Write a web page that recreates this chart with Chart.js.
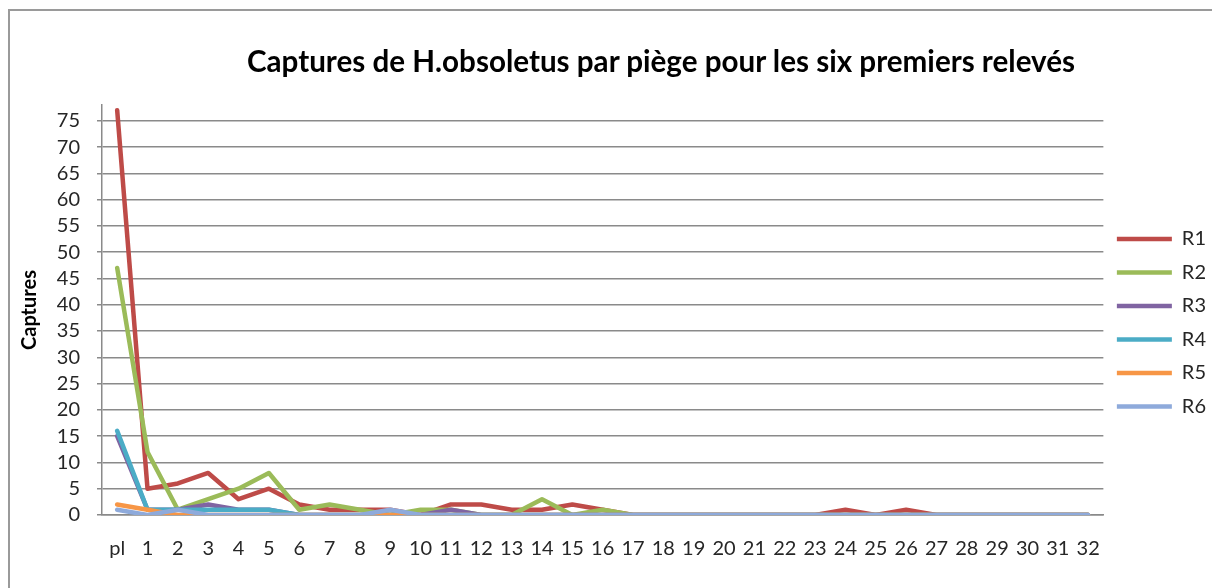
<!DOCTYPE html>
<html>
<head>
<meta charset="utf-8">
<script src="https://cdn.jsdelivr.net/npm/chart.js@4"></script>
<style>
  html, body { margin: 0; padding: 0; background: #fff; overflow: hidden; width: 1212px; height: 588px; }
  #frame { position: absolute; left: 8px; top: 9px; width: 1204px; height: 579px; border-left: 2px solid #9a9a9a; border-top: 2px solid #9a9a9a; box-sizing: border-box; pointer-events: none; }
  #title { position: absolute; left: 661px; top: 46px; transform: translateX(-50%); white-space: nowrap;
           font-family: Lato, sans-serif; font-weight: bold; font-size: 29.6px; line-height: 29.6px; color: #000; }
  #wrap { position: absolute; left: 0; top: 0; width: 1212px; height: 588px; overflow: hidden; }
  canvas { display: block; }
</style>
</head>
<body>
<div id="frame"></div>
<div id="wrap"><canvas id="c" width="1240" height="588"></canvas></div>
<div id="title">Captures de H.obsoletus par piège pour les six premiers relevés</div>
<script>
const categories = ['pl','1','2','3','4','5','6','7','8','9','10','11','12','13','14','15','16','17','18','19','20','21','22','23','24','25','26','27','28','29','30','31','32'];
const seriesNames = ['R1','R2','R3','R4','R5','R6'];
const R1 = [77,5,6,8,3,5,2,1,1,1,0,2,2,1,1,2,1,0,0,0,0,0,0,0,1,0,1,0,0,0,0,0,0];
const R2 = [47,12,1,3,5,8,1,2,1,0,1,1,0,0,3,0,1,0,0,0,0,0,0,0,0,0,0,0,0,0,0,0,0];
const R3 = [15,1,1,2,1,1,0,0,0,0,0,1,0,0,0,0,0,0,0,0,0,0,0,0,0,0,0,0,0,0,0,0,0];
const R4 = [16,1,1,1,1,1,0,0,0,0,0,0,0,0,0,0,0,0,0,0,0,0,0,0,0,0,0,0,0,0,0,0,0];
const R5 = [2,1,0,0,0,0,0,0,0,0,0,0,0,0,0,0,0,0,0,0,0,0,0,0,0,0,0,0,0,0,0,0,0];
const R6 = [1,0,1,0,0,0,0,0,0,1,0,0,0,0,0,0,0,0,0,0,0,0,0,0,0,0,0,0,0,0,0,0,0];
const yTickValues = [0,5,10,15,20,25,30,35,40,45,50,55,60,65,70,75];
const yAxisTitle = 'Captures';
const colors = ['#BE4B48','#9BBB59','#8064A2','#4BACC6','#F79646','#8EAADB'];

const seriesValues = [R1, R2, R3, R4, R5, R6];
const datasets = seriesValues.map((vals, i) => ({
  label: seriesNames[i],
  data: vals,
  borderColor: colors[i],
  backgroundColor: colors[i],
  borderWidth: 4.5,
  pointRadius: 0,
  pointHoverRadius: 0,
  tension: 0,
  fill: false,
  order: seriesValues.length - i,
  borderJoinStyle: 'round',
  borderCapStyle: 'round'
}));

const FONT = 'Lato, sans-serif';
new Chart(document.getElementById('c'), {
  type: 'line',
  data: { labels: categories, datasets },
  options: {
    responsive: false,
    animation: false,
    devicePixelRatio: 1,
    layout: { padding: { top: 105, left: 0, bottom: 0, right: 24 } },
    plugins: {
      title: { display: false },
      tooltip: { enabled: false },
      legend: {
        position: 'right',
        fullSize: false,
        title: { display: true, text: '', font: { size: 10, family: FONT }, padding: { top: 13.5, bottom: 0 } },
        labels: {
          usePointStyle: true,
          pointStyle: 'line',
          pointStyleWidth: 55,
          boxWidth: 55,
          padding: 13.5,
          color: '#262626',
          font: { family: FONT, size: 20 },
          sort: (a, b) => a.datasetIndex - b.datasetIndex
        }
      }
    },
    scales: {
      x: {
        offset: true,
        grid: { display: false, drawTicks: false },
        border: { display: true, color: '#8a8a8a', width: 1.5 },
        ticks: { color: '#262626', font: { family: FONT, size: 20 }, padding: 22, maxRotation: 0, autoSkip: false },
        afterFit: (s) => { s.height = 73; }
      },
      y: {
        min: 0,
        max: 78,
        afterBuildTicks: (s) => { s.ticks = yTickValues.map(v => ({ value: v })); },
        grid: { color: '#8a8a8a', lineWidth: 1.5, drawTicks: true, tickLength: 5, tickColor: '#8a8a8a' },
        border: { display: true, color: '#8a8a8a', width: 1.5 },
        ticks: { color: '#262626', font: { family: FONT, size: 20 }, padding: 17 },
        title: { display: true, text: yAxisTitle, color: '#000', font: { family: FONT, size: 20, weight: 'bold' }, padding: { top: 18, bottom: 0 } },
        afterFit: (s) => { s.width = 102; }
      }
    }
  }
});
</script>
</body>
</html>
